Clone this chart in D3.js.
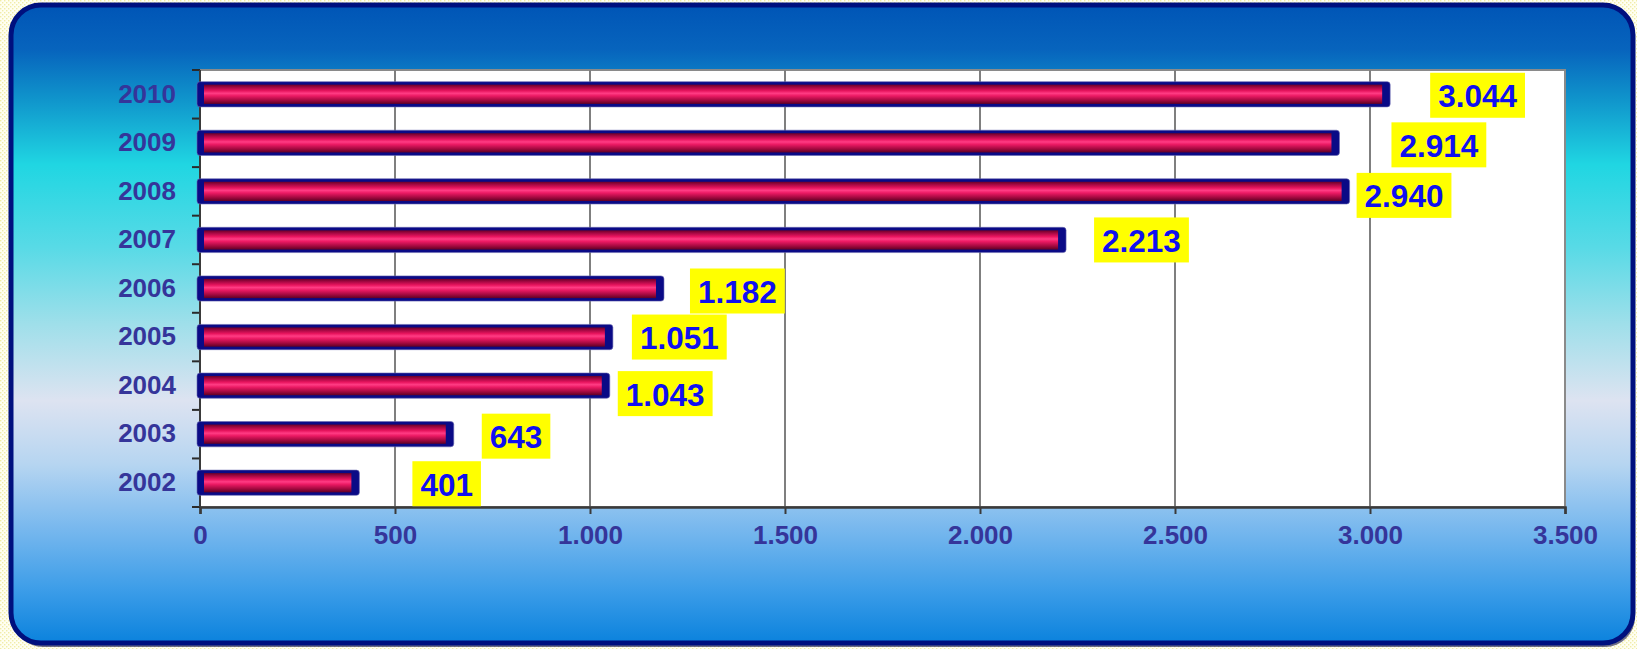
<!DOCTYPE html>
<html>
<head>
<meta charset="utf-8">
<script src="https://cdn.jsdelivr.net/npm/d3@7"></script>
<style>
  html, body { margin: 0; padding: 0; background: #fffff0; }
  svg { display: block; }
</style>
</head>
<body>
<svg id="chart" width="1637" height="649"></svg>
<script>
// ---- data ----
const categories = ["2010", "2009", "2008", "2007", "2006", "2005", "2004", "2003", "2002"];
const values = [3044, 2914, 2940, 2213, 1182, 1051, 1043, 643, 401];
const xTickValues = [0, 500, 1000, 1500, 2000, 2500, 3000, 3500];
const xDomain = [0, 3500];

// ---- layout (label nudges, as hand-placed in the original) ----
const labelGapX = [43, 55, 10, 31, 29, 22, 11, 31, 56];
const labelShiftY = [1, 2, 4, 0, 2.5, 0, 8, 2, 1];

const W = 1637, H = 649;
const plot = { left: 200, top: 70, right: 1565, bottom: 507 };

const svg = d3.select("#chart");
const defs = svg.append("defs");

// background dotted pattern
const pat = defs.append("pattern").attr("id", "dots").attr("width", 4).attr("height", 4)
  .attr("patternUnits", "userSpaceOnUse");
pat.append("rect").attr("width", 4).attr("height", 4).attr("fill", "#fffff2");
pat.append("rect").attr("x", 0).attr("y", 0).attr("width", 1.4).attr("height", 1.4).attr("fill", "#f1eca8");
pat.append("rect").attr("x", 2).attr("y", 2).attr("width", 1.4).attr("height", 1.4).attr("fill", "#f1eca8");

// frame gradient
const fg = defs.append("linearGradient").attr("id", "frameGrad")
  .attr("x1", 0).attr("y1", 0).attr("x2", 0).attr("y2", 1);
[[0, "#0055b6"], [0.07, "#0764bd"], [0.15, "#1096cc"], [0.25, "#20d6e2"], [0.38, "#58dae6"],
 [0.5, "#9fdfea"], [0.62, "#dde3f1"], [0.72, "#b6d5f1"], [0.82, "#78b8ee"], [0.92, "#3a9ce8"], [1, "#0b82dd"]]
  .forEach(([o, c]) => fg.append("stop").attr("offset", o).attr("stop-color", c));

// bar gradient
const bg = defs.append("linearGradient").attr("id", "barGrad")
  .attr("x1", 0).attr("y1", 0).attr("x2", 0).attr("y2", 1);
[[0, "#6a0028"], [0.15, "#a80844"], [0.32, "#e8145e"], [0.45, "#ff3c84"], [0.58, "#ec1a64"],
 [0.8, "#a80a42"], [1, "#600024"]]
  .forEach(([o, c]) => bg.append("stop").attr("offset", o).attr("stop-color", c));

svg.append("rect").attr("width", W).attr("height", H).attr("fill", "url(#dots)");

// shadow + frame
svg.append("rect").attr("x", 13).attr("y", 7).attr("width", 1622).attr("height", 640)
  .attr("rx", 30).attr("fill", "#10104a").attr("opacity", 0.6);
svg.append("rect").attr("x", 11).attr("y", 5).attr("width", 1622).attr("height", 638)
  .attr("rx", 30).attr("fill", "url(#frameGrad)").attr("stroke", "#00107e").attr("stroke-width", 5);

// scales
const x = d3.scaleLinear().domain(xDomain).range([plot.left, plot.right]);
const y = d3.scaleBand().domain(categories).range([plot.top, plot.bottom]).padding(0);
const barH = y.bandwidth() * 0.52;

const fmtLocale = d3.formatLocale({ decimal: ",", thousands: ".", grouping: [3], currency: ["", ""] });
const fmt = fmtLocale.format(",d");

// plot area
svg.append("rect").attr("x", plot.left).attr("y", plot.top)
  .attr("width", plot.right - plot.left).attr("height", plot.bottom - plot.top)
  .attr("fill", "#ffffff").attr("stroke", "#8a8a8a").attr("stroke-width", 2);

// gridlines
svg.append("g").selectAll("line").data(xTickValues.filter(v => v > 0 && v < xDomain[1])).join("line")
  .attr("x1", d => x(d)).attr("x2", d => x(d))
  .attr("y1", plot.top).attr("y2", plot.bottom)
  .attr("stroke", "#7f7f7f").attr("stroke-width", 2);

// x axis
const xAxis = svg.append("g").attr("transform", `translate(0,${plot.bottom})`)
  .call(d3.axisBottom(x).tickValues(xTickValues).tickFormat(fmt).tickSize(7).tickPadding(12));
xAxis.select(".domain").attr("stroke", "#3a3a3a").attr("stroke-width", 2.5);
xAxis.selectAll(".tick line").attr("stroke", "#3a3a3a").attr("stroke-width", 2);
xAxis.selectAll(".tick text").attr("fill", "#35359a")
  .style("font-family", "'Liberation Sans', Arial, sans-serif").style("font-weight", "bold").style("font-size", "26px");

// y axis (labels at band centres)
const yAxis = svg.append("g").attr("transform", `translate(${plot.left},0)`)
  .call(d3.axisLeft(y).tickSize(0).tickPadding(24));
yAxis.select(".domain").remove();
yAxis.selectAll(".tick text").attr("fill", "#35359a")
  .style("font-family", "'Liberation Sans', Arial, sans-serif").style("font-weight", "bold").style("font-size", "26px");

// y tick marks at band boundaries
const bounds = categories.map(c => y(c)).concat([y(categories[categories.length - 1]) + y.bandwidth()]);
svg.append("g").selectAll("line").data(bounds).join("line")
  .attr("x1", plot.left - 8).attr("x2", plot.left).attr("y1", d => d).attr("y2", d => d)
  .attr("stroke", "#2a2a2a").attr("stroke-width", 2);
svg.append("line").attr("x1", plot.left).attr("x2", plot.left).attr("y1", plot.top).attr("y2", plot.bottom)
  .attr("stroke", "#3a3a3a").attr("stroke-width", 2);

// bars
const rows = categories.map((c, i) => ({ c, v: values[i], i }));
const bars = svg.append("g").selectAll("g").data(rows).join("g");
bars.append("rect")
  .attr("x", x(0) - 3).attr("y", d => y(d.c) + y.bandwidth() / 2 - barH / 2)
  .attr("width", d => x(d.v) - x(0) + 6).attr("height", barH)
  .attr("rx", 3).attr("fill", "#0a0a86").attr("stroke", "#6a6ab0").attr("stroke-width", 0.6);
bars.append("rect")
  .attr("x", x(0) + 4).attr("y", d => y(d.c) + y.bandwidth() / 2 - barH / 2 + 3)
  .attr("width", d => Math.max(0, x(d.v) - x(0) - 9)).attr("height", barH - 6)
  .attr("fill", "url(#barGrad)");

// value labels
const lab = svg.append("g").selectAll("g").data(rows).join("g");
lab.each(function (d) {
  const g = d3.select(this);
  const cy = y(d.c) + y.bandwidth() / 2 + labelShiftY[d.i];
  const left = x(d.v) + labelGapX[d.i];
  const box = g.append("rect").attr("fill", "#ffff00");
  const t = g.append("text").text(fmt(d.v))
    .attr("text-anchor", "middle").attr("dominant-baseline", "central")
    .attr("fill", "#1010f0")
    .style("font-family", "'Liberation Sans', Arial, sans-serif").style("font-weight", "bold").style("font-size", "31.5px");
  const tw = t.node().getComputedTextLength();
  const bw = tw + 16, bh = 45;
  box.attr("x", left).attr("y", cy - bh / 2).attr("width", bw).attr("height", bh);
  t.attr("x", left + bw / 2).attr("y", cy + 1);
});
</script>
</body>
</html>
